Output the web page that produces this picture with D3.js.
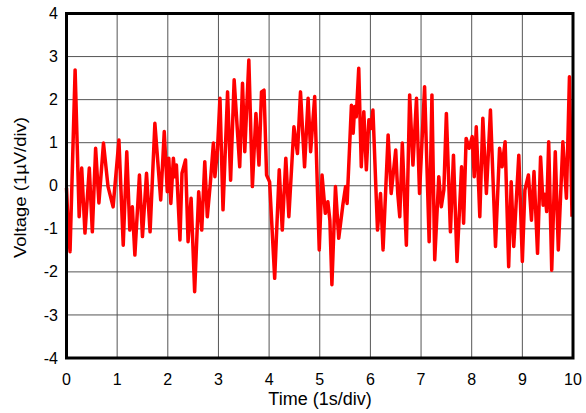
<!DOCTYPE html>
<html lang="en">
<head>
<meta charset="UTF-8">
<title>Voltage noise</title>
<script src="https://d3js.org/d3.v7.min.js"></script>
<style>
	body { margin: 0; background: #fff; }
	text { font-family: "Liberation Sans", Arial, sans-serif; fill: #000; }
</style>
</head>
<body>
<div id="chart"></div>
<script>
	// trace: time (s) and voltage (uV)
	const times = [0, 0.035, 0.07, 0.17, 0.25, 0.30, 0.365, 0.45, 0.51, 0.575, 0.64, 0.73, 0.82, 0.92,
		1.035, 1.12, 1.19, 1.25, 1.30, 1.35, 1.44, 1.50, 1.58, 1.65, 1.745, 1.86, 1.93, 1.99,
		2.02, 2.06, 2.11, 2.14, 2.17, 2.24, 2.28, 2.35, 2.40, 2.46, 2.53, 2.61, 2.67, 2.73, 2.78, 2.84, 2.90, 2.93, 2.98,
		3.03, 3.09, 3.18, 3.24, 3.31, 3.42, 3.475, 3.52, 3.60, 3.67, 3.74, 3.80, 3.85, 3.90, 3.95,
		4.01, 4.11, 4.20, 4.26, 4.33, 4.39, 4.49, 4.56, 4.62, 4.70, 4.77, 4.82, 4.90, 4.99,
		5.045, 5.11, 5.16, 5.20, 5.24, 5.31, 5.375, 5.46, 5.51, 5.54, 5.625, 5.66, 5.69, 5.72, 5.77, 5.82, 5.87, 5.92, 5.97,
		6.01, 6.05, 6.14, 6.20, 6.25, 6.35, 6.41, 6.50, 6.54, 6.58, 6.63, 6.71, 6.775, 6.84, 6.91, 6.97,
		7.07, 7.16, 7.215, 7.27, 7.35, 7.40, 7.45, 7.50, 7.58, 7.64, 7.71, 7.80, 7.84, 7.89, 7.95,
		8.01, 8.05, 8.09, 8.16, 8.22, 8.29, 8.37, 8.47, 8.55, 8.60, 8.66, 8.73, 8.78, 8.83, 8.93,
		9.0, 9.05, 9.12, 9.18, 9.23, 9.30, 9.36, 9.41, 9.45, 9.48, 9.52, 9.58, 9.65, 9.71, 9.80, 9.87, 9.93, 9.98];
	const volts = [-0.05, -1.0, -1.53, 2.69, -0.72, 0.41, -1.1, 0.41, -1.07, 0.87, -0.4, 0.99, -0.02, -0.49,
		1.06, -1.38, 0.79, -1.03, -0.49, -1.61, 0.25, -1.18, 0.29, -1.07, 1.45, -0.33, 1.26, -0.14,
		0.64, -0.41, 0.64, 0.21, 0.48, -1.26, 0.29, 0.6, -1.3, -0.29, -2.46, -0.14, -1.03, 0.56, -0.72, 0.06, 0.99, 0.21, 0.83,
		2.03, -0.56, 2.18, 0.13, 2.46, 0.44, 2.38, 0.79, 2.92, -0.02, 1.68, 0.48, 2.18, 2.22, 0.25,
		0.09, -2.15, 0.37, -1.03, 0.64, -0.72, 1.37, 0.75, 2.18, 0.44, 2.03, 0.79, 2.07, -1.49,
		0.25, -0.64, -0.37, -0.8, -2.3, -0.02, -1.22, -0.41, -0.02, -0.41, 1.87, 1.22, 1.84, 1.6, 2.73, 0.44, 1.72, 0.37, 1.53,
		1.33, 1.76, -1.03, -0.18, -1.49, 1.18, -0.18, 0.83, -0.18, -0.72, 0.99, -1.38, 2.11, 0.48, 2.03, -0.18,
		2.3, -1.3, 2.11, -1.72, 0.21, -0.49, -0.1, 1.68, -1.07, 0.71, -1.76, 0.44, -0.87, 1.1, 0.87,
		1.14, 0.21, 1.37, -0.72, 1.57, -0.18, 1.76, -1.41, 0.87, 0.44, 1.02, -1.88, 0.09, -1.41, 0.71,
		-1.76, -0.1, 0.25, -0.8, 0.33, -1.57, 0.67, -0.45, -0.2, -0.6, 1.02, -1.96, 0.79, -1.49, 1.02, -0.29, 2.53, -0.72];
	const xTicks = [0, 1, 2, 3, 4, 5, 6, 7, 8, 9, 10];
	const yTicks = [-4, -3, -2, -1, 0, 1, 2, 3, 4];

	const width = 586, height = 413;
	const margin = { top: 13.5, right: 13, bottom: 55, left: 66.5 };

	const svg = d3.select("#chart").append("svg")
		.attr("width", width)
		.attr("height", height);

	const x = d3.scaleLinear().domain([0, 10]).range([margin.left, width - margin.right]);
	const y = d3.scaleLinear().domain([-4, 4]).range([height - margin.bottom, margin.top]);

	// grid
	svg.append("g").selectAll("line.v")
		.data(xTicks).enter().append("line")
		.attr("x1", d => x(d)).attr("x2", d => x(d))
		.attr("y1", y(-4)).attr("y2", y(4))
		.attr("stroke", "#555").attr("stroke-width", 1);
	svg.append("g").selectAll("line.h")
		.data(yTicks).enter().append("line")
		.attr("x1", x(0)).attr("x2", x(10))
		.attr("y1", d => y(d)).attr("y2", d => y(d))
		.attr("stroke", "#555").attr("stroke-width", 1);

	// trace
	const pts = times.map((t, i) => [t, volts[i]]);
	const line = d3.line().x(d => x(d[0])).y(d => y(d[1]));
	svg.append("path")
		.datum(pts)
		.attr("d", line)
		.attr("fill", "none")
		.attr("stroke", "#ff0000")
		.attr("stroke-width", 3.5)
		.attr("stroke-linejoin", "round");

	// frame
	svg.append("rect")
		.attr("x", x(0)).attr("y", y(4))
		.attr("width", x(10) - x(0)).attr("height", y(-4) - y(4))
		.attr("fill", "none").attr("stroke", "#000").attr("stroke-width", 3);

	// tick labels
	svg.append("g").selectAll("text")
		.data(yTicks).enter().append("text")
		.attr("x", x(0) - 8.5).attr("y", d => y(d))
		.attr("dy", "0.35em")
		.attr("text-anchor", "end")
		.style("font-size", "16px")
		.text(d => d);
	svg.append("g").selectAll("text")
		.data(xTicks).enter().append("text")
		.attr("x", d => x(d)).attr("y", y(-4) + 27)
		.attr("text-anchor", "middle")
		.style("font-size", "16px")
		.text(d => d);

	// axis titles
	svg.append("text")
		.attr("x", 320).attr("y", 405)
		.attr("text-anchor", "middle")
		.style("font-size", "18px")
		.text("Time (1s/div)");
	svg.append("text")
		.attr("transform", `translate(26,187.5) rotate(-90)`)
		.attr("text-anchor", "middle")
		.attr("textLength", 141)
		.attr("lengthAdjust", "spacingAndGlyphs")
		.style("font-size", "17px")
		.text("Voltage (1µV/div)");
</script>
</body>
</html>
